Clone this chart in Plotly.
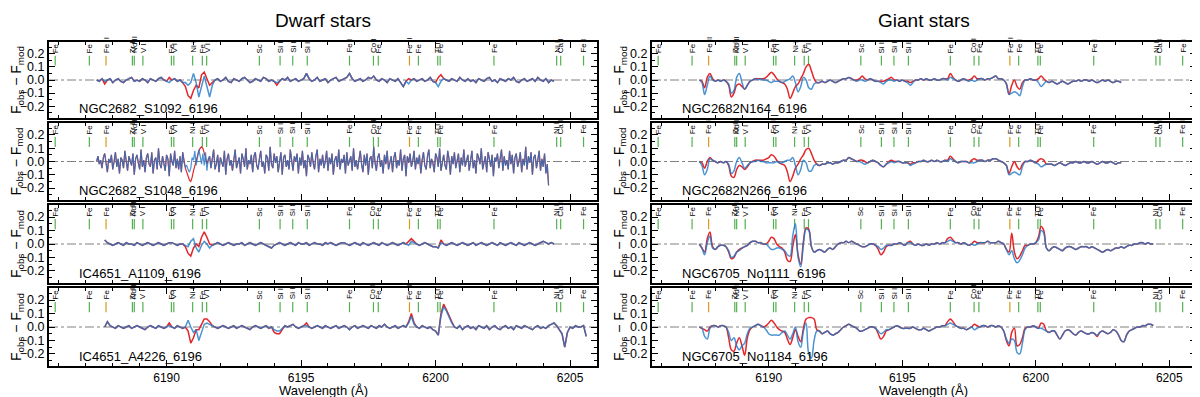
import numpy as np
import plotly.graph_objects as go

STEP = 0.1  # sampling of most residual arrays, Angstrom
X_RANGE = [6185.63, 6206.0]
Y_RANGE = [-0.29, 0.29]
FONT = "Liberation Sans, Arial, sans-serif"

RED = "#e3262a"
BLUE = "rgba(30,120,200,0.8)"
GREEN = "#53b14f"
ORANGE = "#d99a1c"

# identified lines marked at the top of every panel
line_wave = [6185.86, 6187.13, 6187.75, 6188.73, 6188.80, 6189.12, 6190.18, 6190.27,
             6190.97, 6191.33, 6191.49, 6193.45, 6194.22, 6194.69, 6195.23, 6196.80,
             6197.69, 6197.87, 6199.03, 6199.36, 6200.08, 6200.17, 6202.17, 6204.50,
             6204.65, 6205.50]
line_label = ["Fe I", "Fe I", "Fe II", "Zr I", "Nd II", "V I", "Fe I", "V I",
              "Ni I", "Fe I", "V I", "Sc I", "Si I", "Si I", "Si I", "Fe I",
              "Co I", "Fe I", "Fe II", "Fe I", "Ti I", "Fe I", "Fe I", "Ni I",
              "Ca I", "Fe I"]
line_ion = [0, 0, 1, 0, 0, 0, 0, 0, 0, 0, 0, 0, 0, 0, 0, 0,
            0, 0, 1, 0, 0, 0, 0, 0, 0, 0]

# residuals F_obs - F_mod in units of 0.01, sampled every *_step from *_start
# ---- dwarf stars ----
s1092_start = 6187.4
s1092_blue = [0, -1, 1, -1, 0, 1, -2, 0, 1, -1, -2, 0, 1, 2, -1, 0, -1, 1, 0, -2,
              1, 0, -1, 1, 2, 0, -1, -2, 0, 1, -1, 0, -2, -2, -4, -2, 5, -2, -13, -4,
              3, -5, -13, -4, 0, 1, -1, 0, 2, -1, -2, 1, 0, -1, 1, 2, 0, -2, -1, 1,
              0, -1, 2, 1, -1, 0, -1, -2, -1, 1, 0, 2, -1, 0, 1, -1, 0, 1, 5, 1,
              -1, 0, 2, -1, 0, 1, -2, 0, 1, 2, -1, 0, 1, 2, 5, 1, -1, 0, 1, -1,
              0, 2, 1, 3, 0, -1, 1, 0, -2, 1, 0, -1, 1, -2, -5, -1, -3, 0, 1, -1,
              0, 1, -1, 0, 2, -1, -2, -5, -1, 1, 0, -1, 1, 0, -1, 2, 0, -1, 1, -1,
              0, -2, 1, 0, -1, 1, 2, -1, 0, -2, 1, 0, -1, 1, 0, 2, -1, -2, 0, 1,
              -1, 0, 1, -1, 2, 0, -1, 1, -2, 0, -1]
s1092_red = [0, -1, 1, -3, 0, 1, -2, 0, 1, -1, -2, 0, 1, 2, -1, 0, -1, 1, 0, -2,
             1, 0, -1, 1, 2, 0, -1, 2, 0, 1, -1, 0, -2, -5, -12, -14, -8, -4, -6, 4,
             6, 1, -4, -2, 0, 1, -1, 0, 2, -1, -2, 1, 0, -1, 1, 2, 0, -2, -1, 1,
             0, -1, 2, 1, -1, 0, -1, -4, -1, 1, 0, 2, -1, 0, 1, -1, 0, 1, 5, 1,
             -1, 0, 2, -1, 0, 1, -2, 0, 1, 2, -1, 0, 1, 2, 5, 1, -1, 0, 1, -1,
             0, 2, 1, 3, 0, -1, 1, 0, -2, 1, 0, -1, 1, -2, -5, -1, 1, 0, 1, -1,
             0, 1, -1, 0, 2, -1, -2, 2, 4, 1, 0, -1, 1, 0, -1, 2, 0, -1, 1, -1,
             0, -2, 1, 0, -1, 1, 2, -1, 0, -2, 1, 0, -1, 1, 0, 2, -1, -2, 0, 1,
             -1, 0, 1, -1, 2, 0, -1, 1, -2, 0, -1]

# noisy spectrum, read on a finer grid
s1048_start = 6187.4
s1048_step = 0.05
s1048_blue = [0, 4, -2, 1, -5, 3, 6, -3, -8, 2, -1, 5, -6, 0, 7, -4, 2, -9, 3, 1,
              -5, 8, -2, -7, 4, 0, -3, 6, -10, 2, 5, -1, -6, 9, -4, 1, -8, 3, 6, -2,
              -4, 7, -9, 1, 3, -6, 10, -2, -5, 4, -1, -7, 5, 2, -11, 6, 0, -3, 8, -5,
              2, -6, 4, -8, 7, -1, -4, -3, -6, -8, -5, 3, 1, 8, -3, 5, 9, 4, -2, 6,
              -3, 7, -7, 2, 4, -5, 1, 9, -6, -2, 5, -8, 3, 0, -4, 8, -10, 2, 6, -3,
              1, -7, 4, 9, -5, -1, 3, -9, 6, 2, -4, 10, -6, 1, -2, 5, -8, 4, 7, -3,
              -6, 2, 8, -4, 0, -9, 5, 3, -7, 11, -2, -5, 6, -1, 4, -8, 2, 7, -10, 3,
              5, -4, 1, -6, 9, -2, -7, 4, 0, 6, -9, 3, -3, 8, -5, 1, -11, 5, 2, -4,
              7, -1, -6, 4, 9, -8, 2, -3, 5, -5, 0, 8, -7, 3, -2, 6, -10, 1, 4, -4,
              9, -6, 2, -1, 5, -9, 7, -3, 0, 4, -7, 10, -4, 1, -6, 3, 8, -2, -8, 5,
              -3, 6, -10, 2, 4, -5, 11, -1, -7, 3, 6, -4, 1, -9, 5, -2, 8, -6, 0, 4,
              -8, 3, 7, -5, 1, -3, 9, -7, 2, 5, -11, 4, -1, 6, -4, 0, 8, -6, 3, -2,
              5, -9, 1, 7, -3, -6, 4, 9, -5, 2, -1, -8, 6, 3, -4, 10, -7, 0, 5, -3,
              -6, 8, 2, -10, 4, -2, 7, -5, 1, 6, -8, 3, -3, 9, -4, 0, 5, -7, 2, 8,
              -5, 1, -9, 6, 3, -2, 10, -6, -1, 4, -8, 7, 2, -4, 5, -11, 3, 0, 6, -5,
              2, 9, -7, 4, -3, 1, -6, 8, -2, 5, -9, 3, 6, -4, 0, 7, -8, 2, -3, 11,
              -6, 4, -1, 7, -10, 3, 5, -5, 1, 8, -7, 2, -4, 6, -9, -2, -18]
# the red residual follows the blue one except across the Ni I / Fe I blend
s1048_red_blend = [-5, -8, -11, -14, -15, -12, -7, -3, 1, 5, 8, 10, 11, 10, 7, 3, -2]
s1048_red = s1048_blue[:66] + s1048_red_blend + s1048_blue[83:]

a1109_start = 6187.7
a1109_blue = [3, 1, 0, -1, 0, 1, 0, -1, 1, 0, 0, -1, 1, 0, -1, 0, 1, 0, -1, 0,
              1, 0, -1, 0, 1, 1, 0, -1, 0, 0, -1, -2, 2, 4, -3, -6, -1, 2, 0, -3,
              -1, 0, 1, 0, -1, 0, 1, 0, -1, 0, 0, 1, -1, 0, 1, 0, -1, 0, 1, 0,
              -1, -2, -3, -1, 0, 1, 0, -1, 0, 1, 0, -1, 1, 0, 0, 1, -1, 0, 1, 0,
              0, -1, 1, 0, 1, 0, -1, 0, 1, 1, 0, -1, 0, 1, 0, -1, 1, 0, -1, 0,
              1, 0, -1, 1, 0, -1, 0, 1, 0, -1, 0, 1, 0, -1, 2, 1, 0, -1, 0, 1,
              0, -1, -2, -2, -3, 1, 0, -1, 0, 1, 0, -1, 0, 1, 0, -1, 0, 1, -1, 0,
              1, 0, -1, 0, 1, 0, -1, 1, 0, -1, 0, 1, 0, -1, 1, 0, -1, 0, 1, 0,
              -1, 0, 1, 2, 1, 0, 1, 0]
a1109_red = [3, 1, 0, -1, 0, 1, 0, -1, 1, 0, 0, -1, 1, 0, -1, 0, 1, 0, -1, 0,
             1, 0, -1, 0, 1, 1, 0, -1, 0, 0, -2, -7, -9, -3, 0, -2, 5, 9, 5, 0,
             -1, 0, 1, 0, -1, 0, 1, 0, -1, 0, 0, 1, -1, 0, 1, 0, -1, 0, 1, 0,
             -1, -2, -3, -1, 0, 1, 0, -1, 0, 1, 0, -1, 1, 0, 0, 1, -1, 0, 1, 0,
             0, -1, 1, 0, 1, 0, -1, 0, 1, 1, 0, -1, 0, 1, 0, -1, 1, 0, -1, 0,
             1, 0, -1, 1, 0, -1, 0, 1, 0, -1, 0, 1, 0, 2, 4, 2, 0, -1, 0, 1,
             0, -1, -2, -2, -3, 3, 0, -1, 0, 1, 0, -1, 0, 1, 0, -1, 0, 1, -1, 0,
             1, 0, -1, 0, 1, 0, -1, 1, 0, -1, 0, 1, 0, -1, 1, 0, -1, 0, 1, 0,
             -1, 0, 1, 2, 1, 0, 1, 0]

a4226_start = 6187.7
a4226_blue = [0, 4, 1, 0, -1, 1, 0, -1, 0, 1, -1, 0, 1, 0, -1, -2, 0, 1, 0, -1,
              1, 0, -1, 0, 1, 0, -1, 1, 0, -1, 0, 5, 0, -4, -2, -10, -4, 2, 3, 2,
              1, 0, -1, 0, 1, 0, -1, 0, 1, -1, 0, 1, 0, -1, -2, 0, 1, 0, -1, 0,
              1, -1, 0, -2, -3, -3, -1, 1, 0, 1, 2, 0, -1, 0, 1, 1, 0, -1, 0, 1,
              0, -1, 1, 0, -1, 0, 1, -1, 0, 1, 0, -2, 0, 1, -1, 0, 1, 0, -1, 1,
              0, -1, 1, 0, 2, 0, -1, 0, 1, -1, 0, 1, 0, 3, 8, 2, 0, -1, 1, 0,
              -1, 0, -2, -3, -6, 8, 15, 12, 7, 3, 0, -1, 1, -2, 0, 1, -1, 0, -2, 1,
              0, -1, 1, -2, 0, 1, -1, -2, 0, 1, -1, 0, -2, 1, 0, -1, 1, 0, -1, -2,
              0, 1, -1, 0, -1, 1, 2, 3, 1, -2, -5, -15, -4, 0, -1, 1, 0, 0, 1, -7]
a4226_red = [0, 4, 1, 0, -1, 1, 0, -1, 0, 1, -1, 0, 1, 0, -1, -2, 0, 1, 0, -1,
             1, 0, -1, 0, 3, 0, -1, 1, 0, -1, 0, -3, -12, -8, -2, -2, 2, 6, 6, 4,
             1, 0, -1, 0, 1, 0, -1, 0, 1, -1, 0, 1, 0, -1, -2, 0, 1, 0, -1, 0,
             1, -1, 0, -4, -5, -5, -2, 1, 0, 1, 2, 0, -1, 0, 1, 3, 0, -1, 0, 1,
             0, -1, 1, 0, -1, 0, 1, -1, 0, 1, 0, -2, 0, 1, -1, 0, 1, 0, -1, 1,
             0, -1, 1, 0, 2, 0, -1, 0, 1, -1, 0, 1, 0, 4, 10, 3, 0, -1, 1, 0,
             -1, 0, -2, -3, -6, 10, 17, 13, 8, 4, 0, -1, 1, -2, 0, 1, -1, 0, -2, 1,
             0, -1, 1, -2, 0, 1, -1, -2, 0, 1, -1, 0, -2, 1, 0, -1, 1, 0, -1, -2,
             0, 1, -1, 0, -1, 1, 2, 3, 1, -2, -5, -15, -4, 0, -1, 1, 0, 0, 1, -7]

# ---- giant stars ----
n164_start = 6187.4
n164_blue = [0, -2, -11, -4, 3, 0, -1, 0, -1, 0, -1, -3, -10, -8, 2, 5, -2, -7, -4, -1,
             0, 1, 0, 1, 0, 0, -1, -2, -1, -1, -1, -2, -1, 0, 1, 3, -2, -9, -5, 2,
             0, -6, -7, -3, -2, -2, -1, -2, -1, 0, -1, -2, -1, 0, 1, 1, 2, 1, 0, -1,
             0, 0, -1, 0, 1, 0, -1, -1, -2, -3, -1, 0, 0, -1, 0, -1, 0, -1, -2, -4,
             -2, 0, 0, 1, 0, 1, 0, 0, 1, 0, 0, 1, 1, 0, 2, 1, 0, -1, 0, 1,
             0, -1, 0, -1, 0, 1, 1, 0, 1, 1, 2, 3, 1, 1, 0, -3, -11, -10, -9, -10,
             -12, -5, 0, 0, 1, 0, 0, -2, -5, -3, -1, -2, -1, -2, -3, -2, -1, -2, -3, -2,
             -1, -1, 0, -1, 0, 0, -1, 0, -1, -2, -1, 0, -1, 0, -1, -2, -1, -1, -2]
n164_red = [0, -1, -6, 2, 5, 1, -1, 0, -1, 0, -1, -4, -13, -10, -4, -3, -5, -7, -4, -1,
            0, 1, 1, 1, 1, 2, 4, 6, 4, 1, -1, -2, -3, -7, -14, -10, -5, -3, 1, 5,
            10, 12, 7, 1, -2, -2, -1, -2, -1, 0, -1, -2, -1, 0, 1, 1, 2, 1, 0, 0,
            1, 3, 1, 0, 1, 0, -1, -1, -1, -1, 0, 1, 2, 0, 0, -1, 0, -1, -1, -2,
            -1, 0, 0, 1, 0, 1, 0, 0, 1, 0, 0, 1, 1, 1, 5, 2, 0, -1, 0, 1,
            0, 0, 1, 3, 1, 1, 1, 0, 1, 1, 2, 3, 1, 1, 0, -3, -11, -4, 0, -5,
            -7, -2, 0, 0, 1, 0, 0, 1, 3, 1, -1, -2, -1, -2, -3, -2, -1, -2, -3, -2,
            -1, -1, 0, -1, 0, 0, -1, 0, -1, -2, -1, 0, -1, 0, -1, -2, -1, -1, -2]

n266_start = 6187.4
n266_blue = [0, -3, -10, -6, 2, 1, 0, -1, 0, -1, 0, -2, -9, -7, 0, 3, -1, -5, -3, -1,
             0, 0, 1, 0, 0, -1, -1, -1, -1, 0, -1, -1, 0, 1, 1, 3, -3, -10, -6, 1,
             -1, -7, -7, -3, -2, -3, -2, -2, -1, -1, -2, -1, -1, 0, 1, 1, 3, 2, 1, 0,
             0, -1, -2, -1, 0, 1, 0, -1, -3, -4, -2, -1, 0, -1, 0, 0, -1, -1, -1, -3,
             -2, -1, 0, 0, 1, 0, 0, 1, 0, 1, 0, 0, 1, 0, 2, 1, 0, -1, 0, 0,
             0, -1, -1, -1, 0, 1, 1, 0, 1, 1, 2, 2, 1, 0, -1, -3, -10, -9, -8, -9,
             -10, -4, 0, 0, 1, 0, -1, -2, -4, -3, -2, -2, -2, -3, -2, -1, -2, -3, -2, -1,
             -1, 0, -1, -1, 0, -1, -1, 0, -1, -2, -1, 0, -1, -1, 0, -1, -2, -1, -1]
n266_red = [0, -1, -5, 0, 3, 1, 0, -1, 0, -1, 0, -3, -11, -12, -6, -3, -4, -6, -4, -1,
            0, 1, 1, 1, 1, 2, 3, 5, 4, 1, -1, -2, -3, -8, -15, -11, -5, -2, 2, 5,
            9, 10, 6, 1, -2, -3, -2, -2, -1, -1, -2, -1, -1, 0, 1, 1, 3, 2, 1, 0,
            1, 1, 0, -1, 0, 1, 0, -1, -3, -4, -2, 0, 1, 0, 0, 0, -1, -1, -1, -2,
            -1, -1, 0, 0, 1, 0, 0, 1, 0, 1, 0, 0, 1, 1, 4, 2, 0, -1, 0, 0,
            0, -1, 1, 2, 1, 1, 1, 0, 1, 1, 2, 2, 1, 0, -1, -3, -9, -4, 0, -4,
            -6, -2, 0, 0, 1, 0, -1, 1, 2, 1, -2, -2, -2, -3, -2, -1, -2, -3, -2, -1,
            -1, 0, -1, -1, 0, -1, -1, 0, -1, -2, -1, 0, -1, -1, 0, -1, -2, -1, -1]

no1111_start = 6187.4
no1111_blue = [0, -3, -8, 1, 6, -3, -4, -2, -1, -1, -2, -5, -10, -9, -6, -5, -3, -2, -1, 1,
               2, 2, 1, 1, 0, 0, -2, -4, -4, -3, -3, -4, -5, -8, -9, 6, 15, -10, -17, 0,
               11, 10, -2, -6, -5, -4, -5, -6, -4, -3, -4, -2, 0, 1, 1, 2, 1, 2, 1, 0,
               -1, -2, -2, -1, 0, 0, -1, -2, -4, -3, -1, -1, -1, 0, 0, 1, 0, -1, 1, 1,
               0, -1, 0, -1, -1, 0, -1, 0, 0, 1, 0, 1, 1, 2, 3, 2, 1, 1, 0, 1,
               0, -1, 0, -1, 0, 1, 1, 1, 2, 1, 1, 1, 2, 1, 0, -4, -8, -5, -11, -14,
               -12, -8, -3, -1, 0, 0, 1, 3, 10, 8, -3, -5, -3, -2, -3, -4, -5, -3, -2, -2,
               -3, -4, -3, -2, -2, -2, -3, -2, -3, -4, -5, -6, -5, -4, -5, -4, -3, -3, -2, -3,
               -2, -1, -1, 0, 0, 1, 1, 0, 1, 0, 0]
no1111_red = [0, -3, -6, 4, 9, -2, -4, -2, -1, -1, -2, -6, -11, -10, -6, -4, -3, -2, -1, 1,
              2, 2, 1, 1, 0, 0, 2, 5, 4, 0, -2, -3, -6, -12, -13, -2, 7, -8, -15, 2,
              12, 11, -2, -6, -5, -4, -5, -6, -4, -3, -4, -2, 0, 1, 1, 2, 1, 2, 1, 0,
              -1, -2, -2, -1, 0, 0, -1, -4, -8, -6, -2, -1, -1, 0, 0, 1, 0, -1, 1, 2,
              0, -1, 0, -1, -1, 0, -1, 0, 0, 1, 0, 1, 1, 4, 5, 3, 1, 1, 0, 1,
              0, -1, 0, 2, 1, 1, 1, 1, 2, 1, 1, 1, 2, 1, 0, -4, -6, 8, -6, -11,
              -9, -5, -1, -1, 0, 0, 1, 5, 13, 10, -3, -5, -3, -2, -3, -4, -5, -3, -2, -2,
              -3, -4, -3, -2, -2, -2, -3, -2, -3, -4, -5, -6, -5, -4, -5, -4, -3, -3, -2, -3,
              -2, -1, -1, 0, 0, 1, 1, 0, 1, 0, 0]

no1184_start = 6187.4
no1184_blue = [0, -1, -7, -9, -1, 1, 1, 0, 1, 1, 0, -4, -10, -8, -14, -17, -14, -12, -5, -1,
               0, 1, 2, 1, 0, -2, -5, -6, -6, -6, -6, -4, -3, -6, -9, -5, 0, -11, -15, -3,
               3, -20, -23, -10, -3, -3, -5, -4, -3, -5, -6, -5, -4, -2, 0, 1, 2, 1, 0, -1,
               -3, -3, -2, -1, 0, 0, -1, -3, -5, -4, -2, -2, -1, 0, 1, 0, -1, -1, -1, -1,
               0, -1, -2, -2, -1, -2, -3, -2, -1, 0, 0, 1, 1, 2, 3, 2, 1, 0, -1, -1,
               -2, -1, 0, -2, -1, 0, 1, 1, 0, 1, 1, 0, 1, 0, -3, -9, -12, -9, -10, -19,
               -20, -12, -2, 0, 0, 1, 0, -1, -1, -2, -3, -4, -3, -3, -6, -9, -6, -3, -2, -3,
               -5, -6, -4, -3, -4, -5, -5, -4, -5, -6, -4, -3, -4, -5, -4, -2, -3, -6, -10, -11,
               -6, -3, -2, -1, 0, 0, 1, 1, 2, 2, 1]
no1184_red = [0, -1, -2, -3, 0, 1, 1, 0, 1, 1, 0, -8, -17, -18, -12, -8, -14, -21, -8, -2,
              0, 1, 2, 1, 0, 1, 3, 5, 3, 0, -2, -3, -4, -9, -13, -8, -2, -7, -11, -1,
              6, 7, 7, 6, -2, -3, -5, -4, -3, -5, -6, -5, -4, -2, 0, 1, 2, 1, 0, -1,
              -3, -3, -2, -1, 0, 0, -1, -5, -9, -7, -3, -2, -1, 0, 1, 0, -1, -1, -1, -1,
              0, -1, -2, -2, -1, -2, -3, -2, -1, 0, 0, 1, 1, 4, 6, 4, 1, 0, -1, -1,
              -2, -1, 0, 2, 1, 0, 1, 1, 0, 1, 1, 0, 1, 0, -3, -10, -14, -4, -1, -14,
              -13, -8, -1, 0, 0, 1, 0, -1, 3, 2, -3, -4, -3, -3, -6, -9, -6, -3, -2, -3,
              -5, -6, -4, -3, -4, -5, -5, -4, -5, -7, -4, -3, -4, -5, -4, -2, -3, -6, -10, -11,
              -6, -3, -2, -1, 0, 0, 1, 1, 2, 2, 1]

# (label, start, step, blue, red, row, col, smooth)
panels = [
    ("NGC2682_S1092_6196", s1092_start, STEP, s1092_blue, s1092_red, 0, 0, False),
    ("NGC2682_S1048_6196", s1048_start, s1048_step, s1048_blue, s1048_red, 1, 0, False),
    ("IC4651_A1109_6196", a1109_start, STEP, a1109_blue, a1109_red, 2, 0, False),
    ("IC4651_A4226_6196", a4226_start, STEP, a4226_blue, a4226_red, 3, 0, False),
    ("NGC2682N164_6196", n164_start, STEP, n164_blue, n164_red, 0, 1, True),
    ("NGC2682N266_6196", n266_start, STEP, n266_blue, n266_red, 1, 1, True),
    ("NGC6705_No1111_6196", no1111_start, STEP, no1111_blue, no1111_red, 2, 1, True),
    ("NGC6705_No1184_6196", no1184_start, STEP, no1184_blue, no1184_red, 3, 1, True),
]

# the page body keeps its default 8 px margin, so the figure is laid out
# in page pixels minus that offset
OFF = 8
W, H = 1200 - OFF, 397 - OFF
row_px = [(42, 118), (123, 200), (205, 283), (288, 366)]
col_px = [(49, 597), (652, 1196)]


def px_x(x):
    return (x - OFF) / W


def px_y(y):
    return 1 - (y - OFF) / H


fig = go.Figure()
annotations = []
layout = {}

for label, start, step, blue, red, r, c, smooth in panels:
    k = r * 2 + c + 1
    xa, ya = f"x{k}", f"y{k}"
    shape = "spline" if smooth else "linear"

    # zero level
    fig.add_trace(go.Scatter(x=X_RANGE, y=[0, 0], xaxis=xa, yaxis=ya, mode="lines",
                             line=dict(color="#808080", width=1, dash="dashdot"),
                             showlegend=False, hoverinfo="skip"))

    # line markers
    for ion, col in ((0, GREEN), (1, ORANGE)):
        xs, ys = [], []
        for w, i in zip(line_wave, line_ion):
            if i == ion:
                xs += [w, w, None]
                ys += [0.11, 0.185, None]
        fig.add_trace(go.Scatter(x=xs, y=ys, xaxis=xa, yaxis=ya, mode="lines",
                                 line=dict(color=col, width=1.2),
                                 showlegend=False, hoverinfo="skip"))

    wave_b = start + step * np.arange(len(blue))
    wave_r = start + step * np.arange(len(red))
    lw = 1.2 if step < STEP else 1.5
    fig.add_trace(go.Scatter(x=wave_r, y=np.array(red) / 100, xaxis=xa, yaxis=ya,
                             mode="lines", line=dict(color=RED, width=lw, shape=shape),
                             showlegend=False))
    fig.add_trace(go.Scatter(x=wave_b, y=np.array(blue) / 100, xaxis=xa, yaxis=ya,
                             mode="lines", line=dict(color=BLUE, width=lw, shape=shape),
                             showlegend=False))

    for w, t in zip(line_wave, line_label):
        annotations.append(dict(x=w, y=0.19, xref=xa, yref=ya, text=t, showarrow=False,
                                textangle=-90, yanchor="bottom", xanchor="center",
                                font=dict(size=8, color="black", family=FONT)))
    annotations.append(dict(x=6186.67, y=-0.22, xref=xa, yref=ya, text=label,
                            showarrow=False, xanchor="left", yanchor="middle",
                            font=dict(size=13, color="black", family=FONT)))

    top, bot = row_px[r]
    left, right = col_px[c]
    layout[f"xaxis{k}"] = dict(
        domain=[px_x(left), px_x(right)], range=X_RANGE, anchor=ya,
        showgrid=False, zeroline=False,
        showline=True, linecolor="black", linewidth=2, mirror="ticks",
        ticks="inside", ticklen=6, tickwidth=1, tickcolor="black",
        tickmode="linear", tick0=6190, dtick=5, showticklabels=(r == 3),
        tickfont=dict(size=12, family=FONT, color="black"),
        minor=dict(tick0=6190, dtick=1, ticks="inside", ticklen=3, tickcolor="black"),
    )
    layout[f"yaxis{k}"] = dict(
        domain=[px_y(bot), px_y(top)], range=Y_RANGE, anchor=xa,
        showgrid=False, zeroline=False,
        showline=True, linecolor="black", linewidth=2, mirror="ticks",
        ticks="inside", ticklen=6, tickwidth=1, tickcolor="black",
        tickmode="linear", tick0=0, dtick=0.1, tickformat=".1f",
        tickfont=dict(size=12.5, family=FONT, color="black"),
        minor=dict(tick0=0, dtick=0.05, ticks="inside", ticklen=3, tickcolor="black"),
    )
    # y title
    annotations.append(dict(x=px_x(left - 32), y=px_y((top + bot) / 2),
                            xref="paper", yref="paper", xanchor="center", yanchor="middle",
                            text="F<sub>obs</sub> − F<sub>mod</sub>", showarrow=False,
                            textangle=-90, font=dict(size=14, family=FONT, color="black")))

for c, title in enumerate(["Dwarf stars", "Giant stars"]):
    left, right = col_px[c]
    xc = px_x((left + right) / 2)
    annotations.append(dict(x=xc, y=px_y(21), xref="paper", yref="paper",
                            xanchor="center", yanchor="middle", text=title,
                            showarrow=False, font=dict(size=19, family=FONT, color="black")))
    annotations.append(dict(x=xc, y=px_y(390.5), xref="paper", yref="paper",
                            xanchor="center", yanchor="middle", text="Wavelength (Å)",
                            showarrow=False, font=dict(size=13, family=FONT, color="black")))

fig.update_layout(width=W, height=H, margin=dict(l=0, r=0, t=0, b=0),
                  paper_bgcolor="white", plot_bgcolor="white",
                  annotations=annotations, **layout)

fig.write_html("out.html")
